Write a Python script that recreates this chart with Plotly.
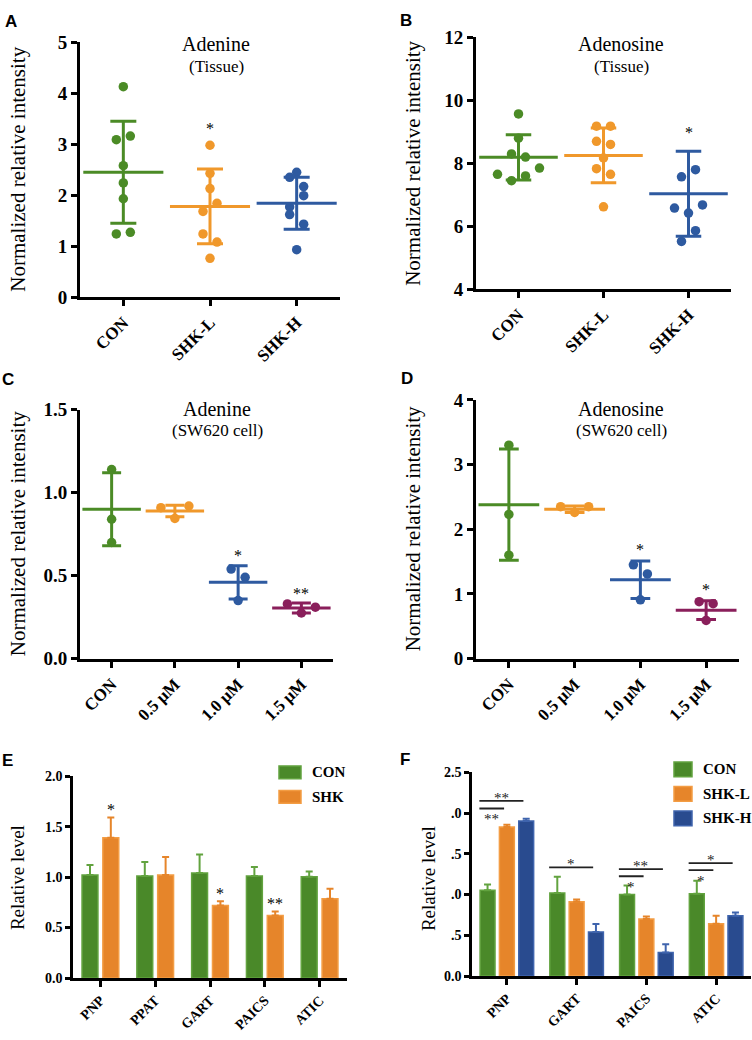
import plotly.graph_objects as go

W, H = 752, 1040
SERIF = "Liberation Serif, Times New Roman, DejaVu Serif, serif"
SANS = "Liberation Sans, Arial, DejaVu Sans, sans-serif"

# ---------------- data ----------------
tissue_groups = ["CON", "SHK-L", "SHK-H"]
cell_groups = ["CON", "0.5 μM", "1.0 μM", "1.5 μM"]

adenine_tissue = [
    [4.13, 2.58, 2.24, 1.93, 3.09, 3.16, 1.24, 1.27],
    [2.98, 2.43, 2.13, 1.24, 1.08, 1.68, 1.84, 0.76],
    [2.45, 2.35, 2.17, 1.77, 1.99, 1.62, 1.43, 0.93],
]
adenine_tissue_mean = [2.45, 1.78, 1.84]
adenine_tissue_sd = [1.00, 0.735, 0.51]
adenine_tissue_sig = ["", "*", ""]

adenosine_tissue = [
    [9.57, 8.80, 8.30, 8.20, 7.65, 7.45, 7.60, 7.85],
    [9.18, 9.18, 8.70, 8.60, 8.17, 7.83, 7.65, 6.62],
    [7.57, 7.80, 6.58, 6.42, 6.68, 5.52, 5.86],
]
adenosine_tissue_mean = [8.19, 8.25, 7.03]
adenosine_tissue_sd = [0.72, 0.87, 1.35]
adenosine_tissue_sig = ["", "", "*"]

adenine_cell = [[1.14, 0.84, 0.70], [0.91, 0.845, 0.92], [0.54, 0.49, 0.35], [0.33, 0.275, 0.31]]
adenine_cell_mean = [0.90, 0.89, 0.46, 0.305]
adenine_cell_sd = [0.22, 0.035, 0.10, 0.03]
adenine_cell_sig = ["", "", "*", "**"]

adenosine_cell = [[3.30, 2.23, 1.60], [2.35, 2.26, 2.35], [1.45, 1.31, 0.91], [0.88, 0.85, 0.59]]
adenosine_cell_mean = [2.38, 2.31, 1.22, 0.75]
adenosine_cell_sd = [0.86, 0.05, 0.29, 0.145]
adenosine_cell_sig = ["", "", "*", "*"]

genes_e = ["PNP", "PPAT", "GART", "PAICS", "ATIC"]
series_e = ["CON", "SHK"]
e_con = [1.02, 1.01, 1.04, 1.01, 1.005]
e_con_err = [0.10, 0.14, 0.185, 0.09, 0.05]
e_shk = [1.39, 1.02, 0.72, 0.62, 0.785]
e_shk_err = [0.20, 0.18, 0.04, 0.04, 0.10]
e_sig = ["*", "", "*", "**", ""]

genes_f = ["PNP", "GART", "PAICS", "ATIC"]
series_f = ["CON", "SHK-L", "SHK-H"]
f_con = [1.053, 1.02, 1.00, 1.01]
f_con_err = [0.07, 0.20, 0.11, 0.16]
f_shkl = [1.828, 0.912, 0.70, 0.643]
f_shkl_err = [0.027, 0.028, 0.03, 0.097]
f_shkh = [1.904, 0.54, 0.29, 0.74]
f_shkh_err = [0.026, 0.10, 0.10, 0.04]
# (gene index, compared series index, bracket level, label)
f_brackets = [(0, 2, 2.15, "**"), (0, 1, 2.056, "**"), (1, 2, 1.334, "*"),
              (2, 2, 1.313, "**"), (2, 1, 1.225, "*"), (3, 2, 1.386, "*"), (3, 1, 1.30, "*")]

# ---------------- colours ----------------
GREEN, ORANGE, BLUE, PURPLE = "#4b8b26", "#f0982b", "#2e5aa0", "#8a1f5b"
BAR_FILL = ["#4a8929", "#e6852a", "#294b8f"]
BAR_EDGE = ["#62a33f", "#f39d44", "#3f64ad"]


def px(x):
    return x / W


def py(y):
    return 1 - y / H


def ax_names(k):
    return ("xaxis" if k == 1 else f"xaxis{k}", "yaxis" if k == 1 else f"yaxis{k}",
            "x" if k == 1 else f"x{k}", "y" if k == 1 else f"y{k}")


def swarm(vals, ppu, step, thr=13.5):
    # GraphPad-like spreading: points closer than thr px share a row, spread symmetrically
    order = sorted(range(len(vals)), key=lambda i: vals[i])
    bins = []
    for i in order:
        if bins and (vals[i] - vals[bins[-1][0]]) * ppu < thr:
            bins[-1].append(i)
        else:
            bins.append([i])
    offs = [0.0] * len(vals)
    for b in bins:
        b.sort()
        n = len(b)
        for k, i in enumerate(b):
            offs[i] = (k - (n - 1) / 2) * step
    return offs


fig = go.Figure()
layout = dict(width=W, height=H, margin=dict(l=0, r=0, t=0, b=0),
              plot_bgcolor="white", paper_bgcolor="white", showlegend=False,
              barmode="overlay")
annotations = []
shapes = []


def axis_common(lw, ticklen, fsize):
    return dict(showline=True, linecolor="black", linewidth=lw, ticks="outside",
                ticklen=ticklen, tickwidth=lw, tickcolor="black", showgrid=False,
                zeroline=False, fixedrange=True,
                tickfont=dict(family=SERIF, size=fsize, color="black", weight="bold"))


def note(text, x, y, size, family=SERIF, angle=0, bold=False, xanchor="center"):
    annotations.append(dict(text=text, x=px(x), y=py(y), xref="paper", yref="paper",
                            showarrow=False, textangle=angle, xanchor=xanchor, yanchor="middle",
                            font=dict(family=family, size=size, color="black",
                                      weight="bold" if bold else "normal")))


def dot_panel(k, cats, data, means, sds, sig, colors, box, yrange, dtick, tfmt, star_shift):
    xa, ya, xr, yr = ax_names(k)
    x0, x1, ytop, ybot = box
    n = len(cats)
    ppu = (ybot - ytop) / (yrange[1] - yrange[0])
    ppc = (x1 - x0) / n
    step = 14 / ppc
    for g in range(n):
        offs = swarm(data[g], ppu, step)
        fig.add_trace(go.Scatter(x=[g + o for o in offs], y=data[g], mode="markers",
                                 marker=dict(size=9.5, color=colors[g]), xaxis=xr, yaxis=yr))
        fig.add_trace(go.Scatter(x=[g], y=[means[g]], mode="markers",
                                 marker=dict(symbol="line-ew", size=0.66 * ppc,
                                             line=dict(width=3, color=colors[g])),
                                 error_y=dict(type="data", array=[sds[g]], visible=True,
                                              color=colors[g], thickness=3, width=0.15 * ppc),
                                 xaxis=xr, yaxis=yr))
        if sig[g]:
            top = max(max(data[g]), means[g] + sds[g])
            annotations.append(dict(text=sig[g], x=g, y=top, xref=xr, yref=yr, showarrow=False,
                                    yanchor="middle", yshift=star_shift,
                                    font=dict(family=SERIF, size=16, color="black")))
    layout[xa] = dict(domain=[px(x0), px(x1)], anchor=yr, range=[-0.5, n - 0.5],
                      tickvals=list(range(n)), ticktext=cats, tickangle=-45,
                      **axis_common(3, 6, 17))
    layout[ya] = dict(domain=[py(ybot), py(ytop)], anchor=xr, range=yrange, dtick=dtick,
                      tickformat=tfmt, **axis_common(3, 6, 19))


dot_panel(1, tissue_groups, adenine_tissue, adenine_tissue_mean, adenine_tissue_sd,
          adenine_tissue_sig, [GREEN, ORANGE, BLUE], (80, 340, 33, 293), [0, 5], 1, "d", 17)
dot_panel(2, tissue_groups, adenosine_tissue, adenosine_tissue_mean, adenosine_tissue_sd,
          adenosine_tissue_sig, [GREEN, ORANGE, BLUE], (476, 731, 28, 285), [4, 12], 2, "d", 19)
dot_panel(3, cell_groups, adenine_cell, adenine_cell_mean, adenine_cell_sd,
          adenine_cell_sig, [GREEN, ORANGE, BLUE, PURPLE], (80, 333, 408, 662), [0, 1.5], 0.5, ".1f", 10)
dot_panel(4, cell_groups, adenosine_cell, adenosine_cell_mean, adenosine_cell_sd,
          adenosine_cell_sig, [GREEN, ORANGE, BLUE, PURPLE], (476, 739, 398, 662), [0, 4], 1, "d", 11)


def bar_panel(k, genes, series, vals, errs, box, yrange, width, gap, legend_box, legend_step):
    xa, ya, xr, yr = ax_names(k)
    x0, x1, ytop, ybot = box
    n = len(genes)
    m = len(series)
    start = -(m * width + (m - 1) * gap) / 2
    for s in range(m):
        fig.add_trace(go.Bar(x=list(range(n)), y=vals[s], width=width, offset=start + s * (width + gap),
                             marker=dict(color=BAR_FILL[s], line=dict(color=BAR_EDGE[s], width=1.5)),
                             error_y=dict(type="data", array=errs[s], arrayminus=[0] * n, symmetric=False,
                                          visible=True, color=BAR_EDGE[s] if s != 1 else BAR_FILL[s],
                                          thickness=2, width=3.5),
                             xaxis=xr, yaxis=yr))
    layout[xa] = dict(domain=[px(x0), px(x1)], anchor=yr, range=[-0.5, n - 0.5],
                      tickvals=list(range(n)), ticktext=genes, tickangle=-45,
                      **axis_common(2.5, 6, 14))
    layout[ya] = dict(domain=[py(ybot), py(ytop)], anchor=xr, range=yrange, dtick=0.5,
                      tickformat=".1f", **axis_common(2.5, 5, 14))
    # legend
    lx, ly, bw, bh = legend_box
    for s, name in enumerate(series):
        yc = ly + s * legend_step
        shapes.append(dict(type="rect", xref="paper", yref="paper", x0=px(lx), x1=px(lx + bw),
                           y0=py(yc + bh / 2), y1=py(yc - bh / 2), fillcolor=BAR_FILL[s],
                           line=dict(color=BAR_EDGE[s], width=1.5)))
        note(name, lx + bw + 9, yc, 15, bold=True, xanchor="left")
    return start


start_e = bar_panel(5, genes_e, series_e, [e_con, e_shk], [e_con_err, e_shk_err],
                    (73, 347, 782, 988), [0, 2], 0.29, 0.09, (279, 778, 22, 13), 25)
for g, lab in enumerate(e_sig):
    if lab:
        annotations.append(dict(text=lab, x=g + start_e + 0.29 + 0.09 + 0.145, y=e_shk[g] + e_shk_err[g],
                                xref="x5", yref="y5", showarrow=False, yanchor="middle", yshift=8,
                                font=dict(family=SERIF, size=16, color="black")))

wf, gf = 0.214, 0.063
start_f = bar_panel(6, genes_f, series_f, [f_con, f_shkl, f_shkh], [f_con_err, f_shkl_err, f_shkh_err],
                    (472, 751, 778, 986), [0, 2.5], wf, gf, (674, 775, 18, 15), 25)
for g, s, lev, lab in f_brackets:
    xs = g + start_f - 0.01
    xe = g + start_f + s * (wf + gf) + wf / 2 - 0.04
    shapes.append(dict(type="line", xref="x6", yref="y6", x0=xs, x1=xe, y0=lev, y1=lev,
                       line=dict(color="#222222", width=1.8)))
    annotations.append(dict(text=lab, x=(xs + xe) / 2, y=lev, xref="x6", yref="y6", showarrow=False,
                            yanchor="middle", yshift=3 if s == 2 else -11,
                            font=dict(family=SERIF, size=15, color="#222222")))

# white band that hides the left part of panel F's middle tick labels
shapes.append(dict(type="rect", xref="paper", yref="paper", layer="above", x0=px(420), x1=px(451),
                   y0=py(952), y1=py(812), fillcolor="white", line=dict(width=0)))

# titles
note("Normalized relative intensity", 18, 163, 21, angle=-90)
note("Normalized relative intensity", 413, 157, 21, angle=-90)
note("Normalized relative intensity", 18, 535, 21, angle=-90)
note("Normalized relative intensity", 413, 530, 21, angle=-90)
note("Relative level", 17, 886, 19, angle=-90)
note("Relative level", 428, 887, 19, angle=-90)

note("Adenine", 216, 35, 20)
note("(Tissue)", 216, 58, 17)
note("Adenosine", 621, 35, 20)
note("(Tissue)", 621, 58, 17)
note("Adenine", 217, 407, 20)
note("(SW620 cell)", 217, 429, 17)
note("Adenosine", 621, 407, 20)
note("(SW620 cell)", 621, 429, 17)

for letter, x, y in [("A", 11, 12), ("B", 406, 11), ("C", 8, 377), ("D", 407, 376), ("E", 7, 766), ("F", 405, 765)]:
    note(letter, x, y, 17, family=SANS, bold=True)

layout["annotations"] = annotations
layout["shapes"] = shapes
fig.update_layout(**layout)
# the page body has an 8px default margin; drop it so the figure sits at the window's corner
fig.write_html("out.html", config={"displayModeBar": False},
               post_script="document.body.style.margin='0';")
